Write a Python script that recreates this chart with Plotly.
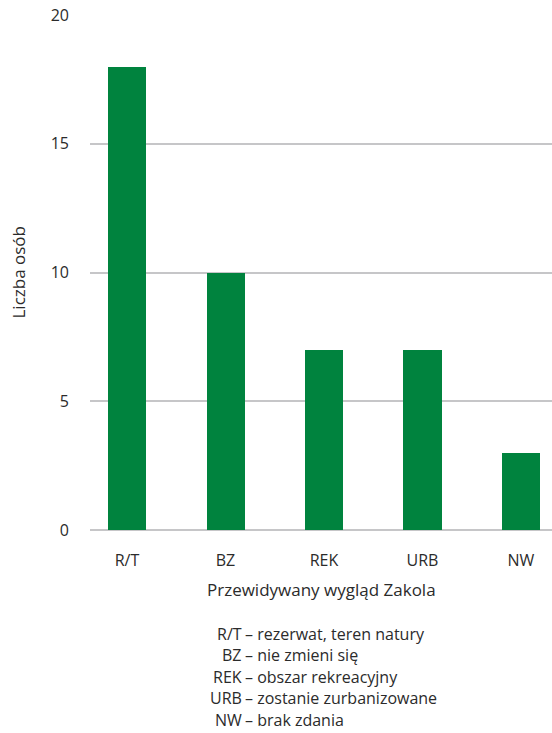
import plotly.graph_objects as go

# Survey results: expected future of the river bend
categories = ["R/T", "BZ", "REK", "URB", "NW"]
counts = [18, 10, 7, 7, 3]
y_ticks = [0, 5, 10, 15, 20]

# Explanation of the category codes
legend_codes = ["R/T", "BZ", "REK", "URB", "NW"]
legend_texts = [
    "rezerwat, teren natury",
    "nie zmieni się",
    "obszar rekreacyjny",
    "zostanie zurbanizowane",
    "brak zdania",
]

GREEN = "#00833E"
GRID = "#C6C6C8"
TEXT = "#2B2B2B"
FONT = "Open Sans"
FS_TICK = 16
FS = 17
FS_NOTE = 16

W, H = 552, 733
M_L, M_R, M_T, M_B = 90, 0, 15, 203
plot_w = W - M_L - M_R
plot_h = H - M_T - M_B


def px(pix):
    # page x in pixels -> paper coordinate
    return (pix - M_L) / plot_w


def py(pix):
    # page y in pixels -> paper coordinate
    return (H - M_B - pix) / plot_h


fig = go.Figure(
    go.Bar(
        x=list(range(len(categories))),
        y=counts,
        width=0.386,
        marker=dict(color=GREEN, line=dict(width=0)),
        hoverinfo="skip",
    )
)

fig.update_layout(
    width=W,
    height=H,
    margin=dict(l=M_L, r=M_R, t=M_T, b=M_B),
    paper_bgcolor="white",
    plot_bgcolor="white",
    showlegend=False,
    font=dict(family=FONT, size=FS, color=TEXT),
    bargap=0,
)

fig.update_xaxes(
    range=[-0.376, 4.315],
    tickmode="array",
    tickvals=list(range(len(categories))),
    ticktext=categories,
    showgrid=False,
    zeroline=False,
    showline=False,
    ticks="outside",
    ticklen=16,
    tickcolor="rgba(0,0,0,0)",
    tickfont=dict(size=FS_TICK, color=TEXT),
)

fig.update_yaxes(
    range=[0, 20],
    tickmode="array",
    tickvals=y_ticks,
    showgrid=True,
    gridcolor=GRID,
    gridwidth=1.5,
    zeroline=True,
    zerolinecolor=GRID,
    zerolinewidth=1.5,
    showline=False,
    ticks="",
    ticklabelstandoff=20,
    tickfont=dict(size=FS_TICK, color=TEXT),
)

# Axis titles
fig.add_annotation(
    text="Liczba osób",
    xref="paper", yref="paper",
    x=px(18), y=0.5,
    xanchor="center", yanchor="middle",
    textangle=-90, showarrow=False,
    font=dict(size=FS, color=TEXT),
)

fig.add_annotation(
    text="Przewidywany wygląd Zakola",
    xref="paper", yref="paper",
    x=0.5, y=py(589),
    xanchor="center", yanchor="middle",
    showarrow=False,
    font=dict(size=FS, color=TEXT),
)

# Code explanations, aligned on the dash
dash_x = px(243)
line_y = [634, 655, 677, 698, 720]
for code, desc, yy in zip(legend_codes, legend_texts, line_y):
    fig.add_annotation(
        text=code, xref="paper", yref="paper",
        x=dash_x, y=py(yy), xanchor="right", yanchor="middle",
        xshift=1, showarrow=False,
        font=dict(size=FS_NOTE, color=TEXT),
    )
    fig.add_annotation(
        text="– " + desc, xref="paper", yref="paper",
        x=dash_x, y=py(yy), xanchor="left", yanchor="middle",
        showarrow=False,
        font=dict(size=FS_NOTE, color=TEXT),
    )

fig.write_html("out.html")
